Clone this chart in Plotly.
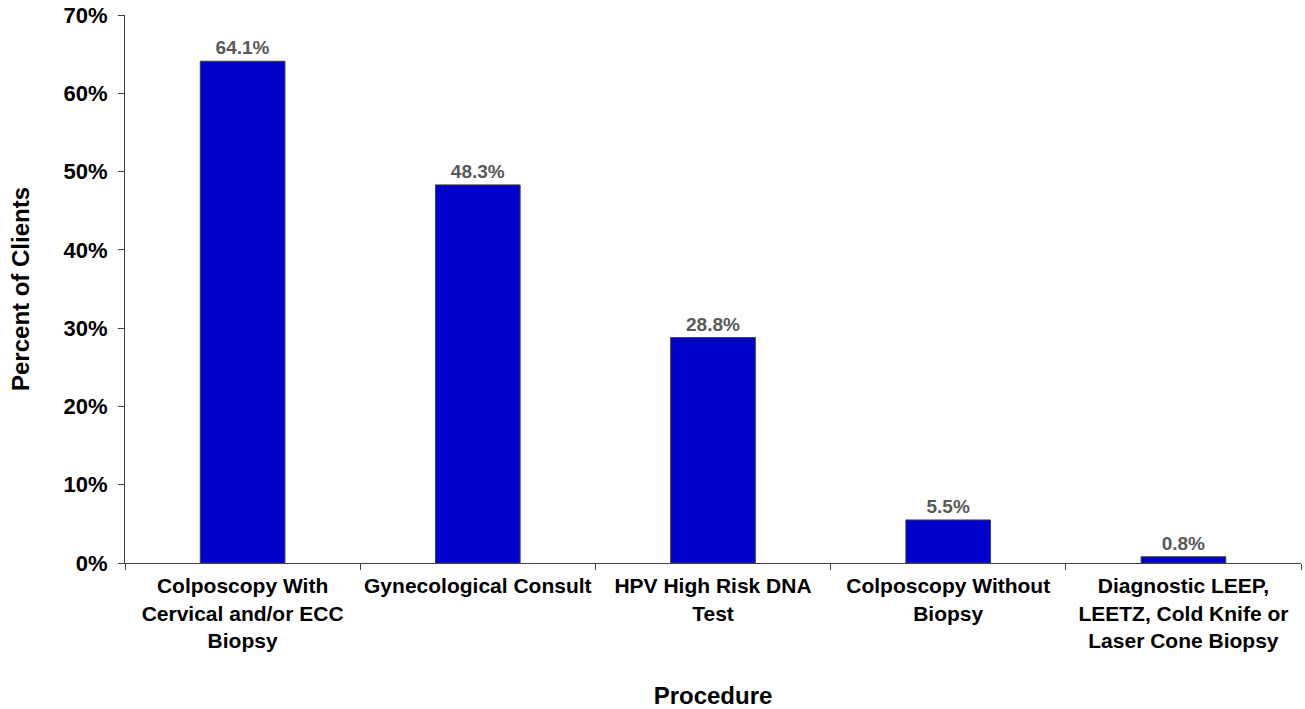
import plotly.graph_objects as go

categories = [
    "Colposcopy With<br>Cervical and/or ECC<br>Biopsy",
    "Gynecological Consult",
    "HPV High Risk DNA<br>Test",
    "Colposcopy Without<br>Biopsy",
    "Diagnostic LEEP,<br>LEETZ, Cold Knife or<br>Laser Cone Biopsy",
]
values = [64.1, 48.3, 28.8, 5.5, 0.8]
labels = ["64.1%", "48.3%", "28.8%", "5.5%", "0.8%"]
y_ticks = [0, 10, 20, 30, 40, 50, 60, 70]
y_ticktext = [f"{v}%" for v in y_ticks]

fig = go.Figure(go.Bar(
    x=categories, y=values, text=labels, textposition="outside",
    textfont=dict(family="Liberation Sans, Arial", size=19, color="#595959", weight="bold"),
    marker=dict(color="#0000CC", line=dict(color="#404040", width=1)),
    width=0.36, cliponaxis=False,
))

fig.update_layout(
    width=1305, height=709,
    margin=dict(l=125, r=4, t=15, b=146),
    plot_bgcolor="white", paper_bgcolor="white",
    showlegend=False,
    font=dict(family="Liberation Sans, Arial", color="black"),
    xaxis=dict(
        automargin=False,
        showline=True, linecolor="#404040", linewidth=1,
        ticks="outside", tickson="boundaries", ticklen=6, tickcolor="#404040",
        tickangle=0, ticklabelstandoff=4,
        tickfont=dict(size=21, weight="bold", color="black"),
        title=dict(text="Procedure", font=dict(size=24, weight="bold"), standoff=39),
        range=[-0.5, 4.5],
    ),
    yaxis=dict(
        automargin=False,
        range=[0, 70], tickvals=y_ticks, ticktext=y_ticktext,
        showline=True, linecolor="#404040", linewidth=1,
        ticks="outside", ticklen=6, tickcolor="#404040",
        ticklabelstandoff=6,
        showgrid=False, zeroline=False,
        tickfont=dict(size=22, weight="bold", color="black"),
        title=dict(text="Percent of Clients", font=dict(size=24, weight="bold"), standoff=27),
    ),
)

fig.write_html("out.html", config={"displayModeBar": False},
               post_script="document.body.style.margin='0';")
